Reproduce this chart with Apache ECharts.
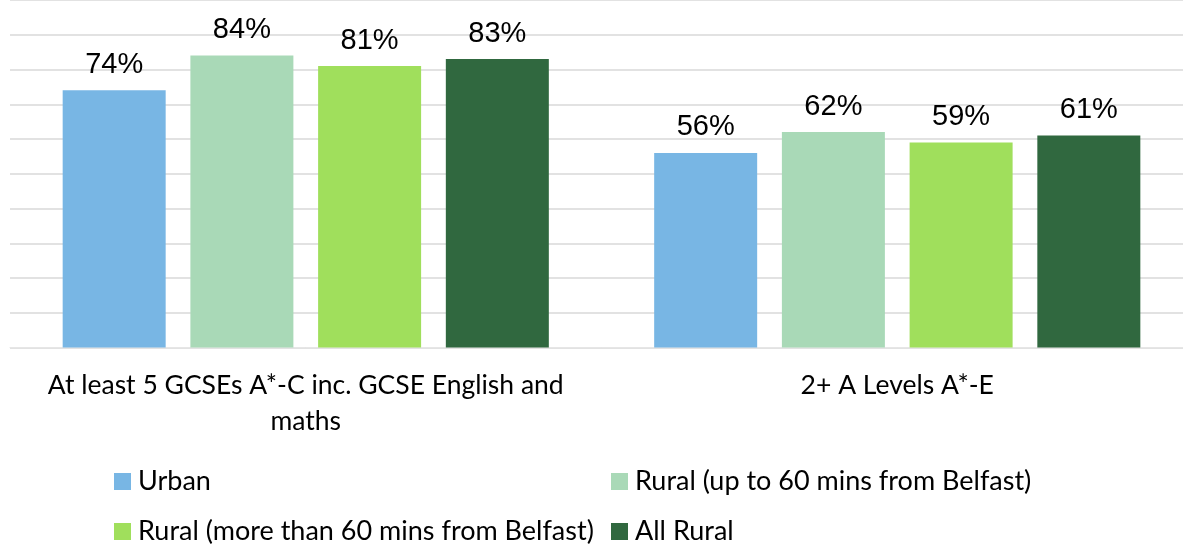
<!DOCTYPE html>
<html>
<head>
<meta charset="utf-8">
<script src="https://cdn.jsdelivr.net/npm/echarts@6/dist/echarts.min.js"></script>
<style>
  html, body { margin: 0; padding: 0; background: #fff; overflow: hidden; }
  #chart { width: 1200px; height: 545px; }
</style>
</head>
<body>
<div id="chart"></div>
<script>
var categories = ['At least 5 GCSEs A*-C inc. GCSE English and\nmaths', '2+ A Levels A*-E'];
var seriesNames = ['Urban', 'Rural (up to 60 mins from Belfast)', 'Rural (more than 60 mins from Belfast)', 'All Rural'];
var urban = [74, 56];
var ruralNear = [84, 62];
var ruralFar = [81, 59];
var allRural = [83, 61];
var colors = ['#78b6e4', '#a9d9b7', '#a0df5c', '#30683f'];

(function () {
  // div is a bit wider than the window so the plot can run past the right edge like the original
  var chart = echarts.init(document.getElementById('chart'), null, { renderer: 'canvas' });
  var textFont = 'Lato, "Open Sans", sans-serif';
  var values = [urban, ruralNear, ruralFar, allRural];

  // legend laid out like excel: two columns, two rows
  var legendPos = [[114, 468], [611, 468], [114, 518], [611, 518]];
  var legends = seriesNames.map(function (n, i) {
    return {
      data: [n], left: legendPos[i][0], top: legendPos[i][1], padding: 0,
      icon: 'rect', itemWidth: 17, itemHeight: 17, selectedMode: false,
      textStyle: { fontFamily: textFont, fontSize: 27, lineHeight: 27, color: '#000', padding: [0, 0, 0, 2] }
    };
  });

  chart.setOption({
    animation: false,
    grid: { left: 10, top: -1, width: 1183, height: 348.5 },
    legend: legends,
    xAxis: {
      type: 'category', data: categories,
      axisTick: { show: false },
      axisLine: { lineStyle: { color: '#e6e6e6', width: 1 } },
      axisLabel: { margin: 20, fontFamily: textFont, fontSize: 26.5, color: '#000', lineHeight: 36, interval: 0 }
    },
    yAxis: {
      type: 'value', min: 0, max: 100, interval: 10,
      axisLabel: { show: false },
      axisLine: { show: false },
      splitLine: { lineStyle: { color: '#d9d9d9', width: 1.5 } }
    },
    series: values.map(function (v, i) {
      return {
        name: seriesNames[i], type: 'bar', data: v,
        barWidth: 103, barGap: '24%',
        itemStyle: { color: colors[i] },
        label: {
          show: true, position: 'top', distance: 11,
          formatter: '{c}%', fontFamily: 'Arial, "Liberation Sans", sans-serif', fontSize: 29, color: '#000'
        }
      };
    })
  });
})();
</script>
</body>
</html>
